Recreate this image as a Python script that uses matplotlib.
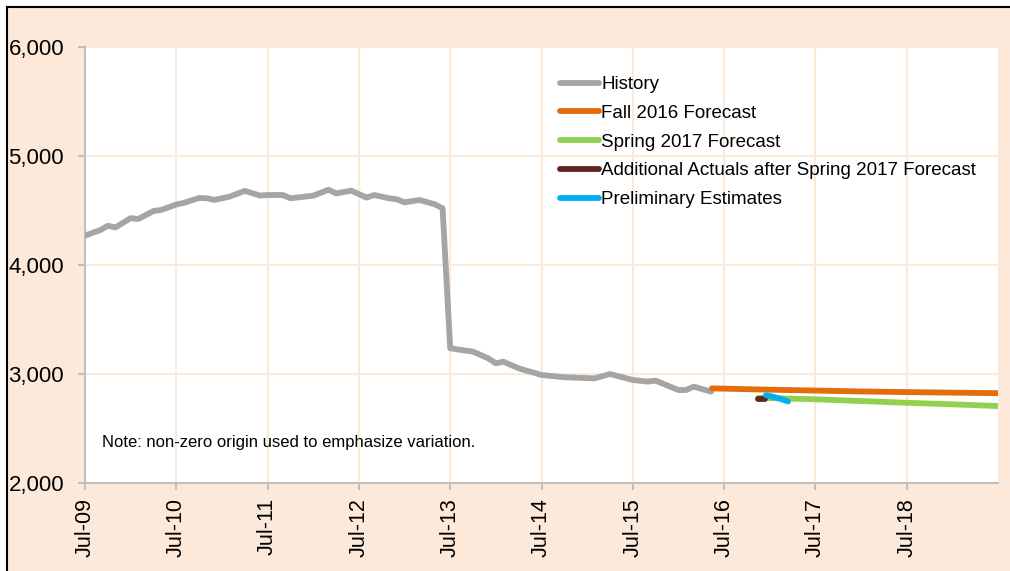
import matplotlib
matplotlib.use('Agg')
import matplotlib.pyplot as plt
from matplotlib.patches import Rectangle
from matplotlib.lines import Line2D

plt.rcParams['font.family'] = ['Liberation Sans', 'DejaVu Sans']

# months counted from Jul-09 (0) to Jul-19 (120)
history_month = [0, 2, 3, 4, 6, 7, 9, 10, 12, 13, 15, 16, 17, 19, 21, 23, 24, 26,
                 27, 30, 32, 33, 35, 37, 38, 40, 41, 42, 44, 46, 47, 48, 51, 53,
                 54, 55, 57, 60, 63, 67, 69, 72, 74, 75, 78, 79, 80, 82.3]
history_value = [4270, 4320, 4360, 4345, 4430, 4422, 4495, 4505, 4555, 4570, 4615,
                 4612, 4597, 4627, 4680, 4637, 4642, 4642, 4612, 4636, 4690, 4657,
                 4682, 4618, 4642, 4612, 4602, 4575, 4596, 4556, 4520, 3236, 3205,
                 3144, 3098, 3113, 3052, 2991, 2970, 2960, 3000, 2945, 2930, 2939,
                 2853, 2853, 2884, 2838]

fall16_month = [82.4, 90, 96, 102, 108, 114, 120]
fall16_value = [2868, 2856, 2848, 2840, 2834, 2829, 2824]

spring17_month = [88.5, 96, 102, 108, 114, 120]
spring17_value = [2782, 2768, 2752, 2736, 2722, 2706]

actuals_month = [88.5, 89.4]
actuals_value = [2773, 2773]

prelim_month = [89.5, 90.5, 91.5, 92.4]
prelim_value = [2805, 2790, 2770, 2748]

tick_months = list(range(0, 120, 12))
tick_labels = ['Jul-09', 'Jul-10', 'Jul-11', 'Jul-12', 'Jul-13',
               'Jul-14', 'Jul-15', 'Jul-16', 'Jul-17', 'Jul-18']
y_ticks = [2000, 3000, 4000, 5000, 6000]

peach = '#FDE9D9'
axis_gray = '#BFBFBF'
W, H = 1010, 571
LW = 4.2

fig = plt.figure(figsize=(W / 100, H / 100), dpi=100, facecolor='white')
# peach chart area with a black edge on the left and top only
fig.patches.append(Rectangle((7 / W, 0), 1, (H - 7) / H, transform=fig.transFigure,
                             facecolor=peach, edgecolor='none', zorder=-10))
fig.lines.append(Line2D([7 / W, 7 / W], [0, (H - 7) / H], transform=fig.transFigure,
                        color='black', lw=1.5))
fig.lines.append(Line2D([7 / W, 1], [(H - 7) / H, (H - 7) / H], transform=fig.transFigure,
                        color='black', lw=1.5))

ax = fig.add_axes([85 / W, (H - 483) / H, (998 - 85) / W, (483 - 47) / H])
ax.set_facecolor('white')

ax.plot(history_month, history_value, color='#A5A5A5', lw=LW,
        solid_capstyle='round', solid_joinstyle='round', label='History', zorder=3)
ax.plot(fall16_month, fall16_value, color='#E46C0A', lw=LW,
        solid_capstyle='round', label='Fall 2016 Forecast', zorder=3)
ax.plot(spring17_month, spring17_value, color='#92D050', lw=LW,
        solid_capstyle='round', label='Spring 2017 Forecast', zorder=3)
ax.plot(actuals_month, actuals_value, color='#632523', lw=LW,
        solid_capstyle='round', label='Additional Actuals after Spring 2017 Forecast', zorder=4)
ax.plot(prelim_month, prelim_value, color='#00B0F0', lw=LW,
        solid_capstyle='round', label='Preliminary Estimates', zorder=5)

ax.set_xlim(0, 120)
ax.set_ylim(2000, 6000)
ax.set_xticks(tick_months)
ax.set_xticklabels(tick_labels, rotation=90, fontsize=15.5)
ax.set_yticks(y_ticks)
ax.set_yticklabels([f'{v:,}' for v in y_ticks], fontsize=16)
ax.tick_params(axis='both', color=axis_gray, length=5, width=1.5)
ax.tick_params(axis='x', pad=6)
ax.tick_params(axis='y', pad=10)

ax.grid(True, color=peach, linewidth=1.5, zorder=1)
ax.set_axisbelow(True)
for side in ['top', 'right']:
    ax.spines[side].set_visible(False)
for side in ['left', 'bottom']:
    ax.spines[side].set_color(axis_gray)
    ax.spines[side].set_linewidth(1.5)

fig.text(102 / W, (H - 443) / H, 'Note: non-zero origin used to emphasize variation.',
         fontsize=12, va='center')

leg = ax.legend(loc='upper left', bbox_to_anchor=(560 / W, (H - 76) / H),
                bbox_transform=fig.transFigure, frameon=False, fontsize=13.5,
                handlelength=2.1, handletextpad=0.1, labelspacing=0.62,
                borderaxespad=0, borderpad=0)
for line in leg.get_lines():
    line.set_linewidth(LW)

fig.savefig('out.png', dpi=100, facecolor=fig.get_facecolor())
